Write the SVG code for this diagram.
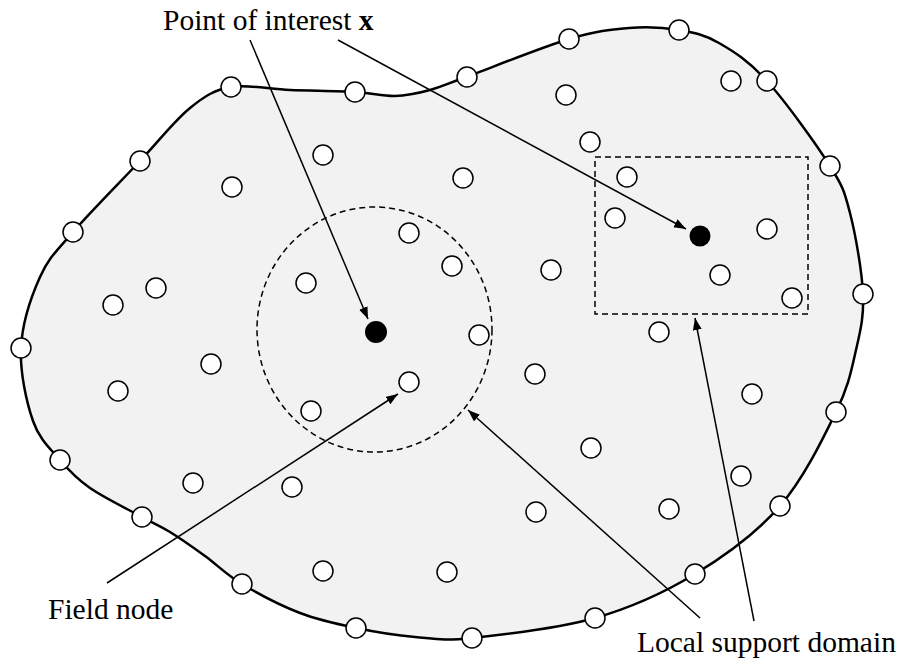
<svg xmlns="http://www.w3.org/2000/svg" width="904" height="662" viewBox="0 0 904 662">
<style>
.n{fill:#fff;stroke:#000;stroke-width:1.5}
.b{fill:#000}
.lbl{font-family:"Liberation Serif","Times New Roman",serif;font-size:29.5px;fill:#000}
.ar{stroke:#000;stroke-width:1.5;fill:none;marker-end:url(#ah)}
.dash{fill:none;stroke:#000;stroke-width:1.5;stroke-dasharray:6 4}
</style>
<defs>
<marker id="ah" markerUnits="userSpaceOnUse" markerWidth="13" markerHeight="10" refX="12" refY="4.5" orient="auto">
<path d="M0,0 L12,4.5 L0,9 z" fill="#000"/>
</marker>
</defs>
<rect width="904" height="662" fill="#fff"/>
<g id="domain">
<path d="M231 87 C247.7 84 269.3 89.2 290 90 C310.7 90.8 337.5 91 355 92 C372.5 93 382.5 96.3 395 96 C407.5 95.7 418.2 93.2 430 90 C441.8 86.8 442.8 85.5 466 77 C489.2 68.5 541.8 47.2 569 39 C596.2 30.8 610.7 29.5 629 28 C647.3 26.5 664 27.5 679 30 C694 32.5 704.3 34.5 719 43 C733.7 51.5 748.5 60.5 767 81 C785.5 101.5 816.2 144 830 166 C843.8 188 844.5 191.7 850 213 C855.5 234.3 862 271.2 863 294 C864 316.8 860.5 330.3 856 350 C851.5 369.7 848.7 386 836 412 C823.3 438 803.5 479 780 506 C756.5 533 725.8 555.3 695 574 C664.2 592.7 632.2 607.3 595 618 C557.8 628.7 502 634.8 472 638 C442 641.2 434.3 638.7 415 637 C395.7 635.3 375.2 632 356 628 C336.8 624 319 620.3 300 613 C281 605.7 257.8 593.5 242 584 C226.2 574.5 217 564.7 205 556 C193 547.3 180.5 538.5 170 532 C159.5 525.5 155.3 524.3 142 517 C128.7 509.7 103.7 497.5 90 488 C76.3 478.5 69.5 471.2 60 460 C50.5 448.8 39.5 439.7 33 421 C26.5 402.3 19.8 372 21 348 C22.2 324 31.3 296.3 40 277 C48.7 257.7 56.3 251.3 73 232 C89.7 212.7 120.5 181.7 140 161 C159.5 140.3 174.8 120.3 190 108 C205.2 95.7 214.3 90 231 87 Z" fill="#f2f2f2" stroke="#000" stroke-width="2.5"/>
</g>
<g id="support-circle"><ellipse class="dash" cx="374.5" cy="329.5" rx="117.5" ry="122.5"/></g>
<g id="support-rect"><rect class="dash" x="595" y="157" width="213" height="157"/></g>
<g id="connectors">
<line class="ar" x1="250" y1="40" x2="368" y2="319"/>
<line class="ar" x1="338" y1="40" x2="686" y2="229"/>
<line class="ar" x1="107" y1="583" x2="398" y2="394"/>
<line class="ar" x1="700" y1="618" x2="468" y2="410"/>
<line class="ar" x1="754" y1="621" x2="695" y2="318"/>
</g>
<g id="boundary-nodes">
<g id="bn1"><circle class="n" cx="231" cy="87" r="10"/></g>
<g id="bn2"><circle class="n" cx="355" cy="92" r="10"/></g>
<g id="bn3"><circle class="n" cx="467" cy="77" r="10"/></g>
<g id="bn4"><circle class="n" cx="569" cy="39" r="10"/></g>
<g id="bn5"><circle class="n" cx="679" cy="30" r="10"/></g>
<g id="bn6"><circle class="n" cx="767" cy="81" r="10"/></g>
<g id="bn7"><circle class="n" cx="830" cy="166" r="10"/></g>
<g id="bn8"><circle class="n" cx="863" cy="294" r="10"/></g>
<g id="bn9"><circle class="n" cx="836" cy="412" r="10"/></g>
<g id="bn10"><circle class="n" cx="780" cy="506" r="10"/></g>
<g id="bn11"><circle class="n" cx="695" cy="574" r="10"/></g>
<g id="bn12"><circle class="n" cx="595" cy="618" r="10"/></g>
<g id="bn13"><circle class="n" cx="472" cy="638" r="10"/></g>
<g id="bn14"><circle class="n" cx="356" cy="628" r="10"/></g>
<g id="bn15"><circle class="n" cx="242" cy="584" r="10"/></g>
<g id="bn16"><circle class="n" cx="142" cy="517" r="10"/></g>
<g id="bn17"><circle class="n" cx="60" cy="460" r="10"/></g>
<g id="bn18"><circle class="n" cx="21" cy="348" r="10"/></g>
<g id="bn19"><circle class="n" cx="73" cy="232" r="10"/></g>
<g id="bn20"><circle class="n" cx="140" cy="161" r="10"/></g>
</g>
<g id="field-nodes">
<g id="fn1"><circle class="n" cx="323" cy="155" r="10"/></g>
<g id="fn2"><circle class="n" cx="232" cy="187" r="10"/></g>
<g id="fn3"><circle class="n" cx="463" cy="178" r="10"/></g>
<g id="fn4"><circle class="n" cx="566" cy="95" r="10"/></g>
<g id="fn5"><circle class="n" cx="590" cy="142" r="10"/></g>
<g id="fn6"><circle class="n" cx="731" cy="81" r="10"/></g>
<g id="fn7"><circle class="n" cx="627" cy="177" r="10"/></g>
<g id="fn8"><circle class="n" cx="615" cy="218" r="10"/></g>
<g id="fn9"><circle class="n" cx="409" cy="233" r="10"/></g>
<g id="fn10"><circle class="n" cx="452" cy="266" r="10"/></g>
<g id="fn11"><circle class="n" cx="551" cy="270" r="10"/></g>
<g id="fn12"><circle class="n" cx="306" cy="283" r="10"/></g>
<g id="fn13"><circle class="n" cx="156" cy="288" r="10"/></g>
<g id="fn14"><circle class="n" cx="113" cy="305" r="10"/></g>
<g id="fn15"><circle class="n" cx="767" cy="229" r="10"/></g>
<g id="fn16"><circle class="n" cx="720" cy="275" r="10"/></g>
<g id="fn17"><circle class="n" cx="792" cy="298" r="10"/></g>
<g id="fn18"><circle class="n" cx="211" cy="364" r="10"/></g>
<g id="fn19"><circle class="n" cx="118" cy="391" r="10"/></g>
<g id="fn20"><circle class="n" cx="409" cy="382" r="10"/></g>
<g id="fn21"><circle class="n" cx="479" cy="335" r="10"/></g>
<g id="fn22"><circle class="n" cx="659" cy="332" r="10"/></g>
<g id="fn23"><circle class="n" cx="311" cy="411" r="10"/></g>
<g id="fn24"><circle class="n" cx="535" cy="374" r="10"/></g>
<g id="fn25"><circle class="n" cx="752" cy="394" r="10"/></g>
<g id="fn26"><circle class="n" cx="591" cy="448" r="10"/></g>
<g id="fn27"><circle class="n" cx="741" cy="476" r="10"/></g>
<g id="fn28"><circle class="n" cx="193" cy="483" r="10"/></g>
<g id="fn29"><circle class="n" cx="292" cy="487" r="10"/></g>
<g id="fn30"><circle class="n" cx="536" cy="512" r="10"/></g>
<g id="fn31"><circle class="n" cx="669" cy="509" r="10"/></g>
<g id="fn32"><circle class="n" cx="323" cy="571" r="10"/></g>
<g id="fn33"><circle class="n" cx="447" cy="572" r="10"/></g>
</g>
<g id="point-1"><circle class="b" cx="376" cy="332" r="11"/></g>
<g id="point-2"><circle class="b" cx="700" cy="236" r="10.5"/></g>
<g id="labels">
<text class="lbl" x="163" y="30">Point of interest <tspan font-weight="bold">x</tspan></text>
<text class="lbl" x="48" y="619">Field node</text>
<text class="lbl" x="637" y="652">Local support domain</text>
</g>
</svg>
